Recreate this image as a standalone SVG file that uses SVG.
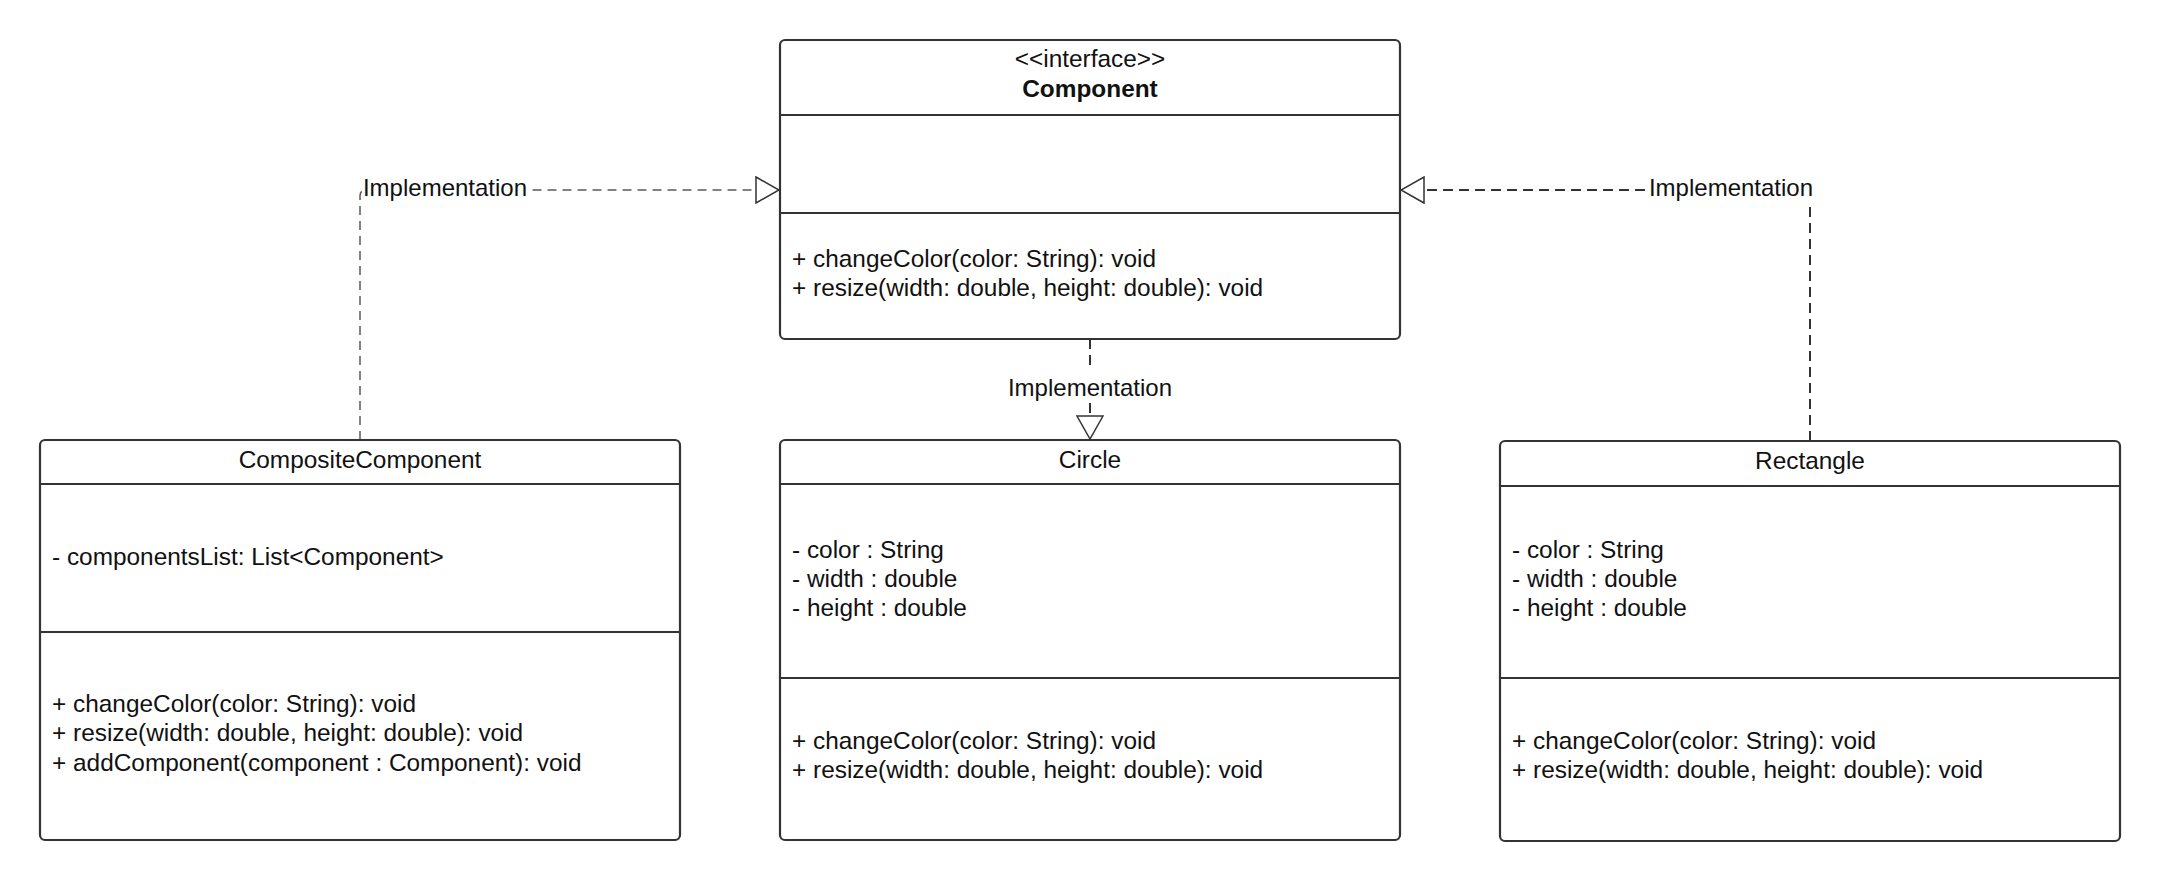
<svg xmlns="http://www.w3.org/2000/svg" width="2160" height="881" viewBox="0 0 2160 881">
  <style>
    .box { fill: #ffffff; stroke: #333333; stroke-width: 2.2; }
    .div { stroke: #333333; stroke-width: 2.2; fill: none; }
    .t { font-family: "Liberation Sans", Arial, sans-serif; font-size: 24.4px; fill: #111111; }
    .l { font-family: "Liberation Sans", Arial, sans-serif; font-size: 24px; fill: #111111; text-anchor: middle; }
    .c { text-anchor: middle; }
    .b { font-weight: bold; }
    .conn { fill: none; stroke: #333333; stroke-width: 2; stroke-dasharray: 10 6; }
    .conn.light { stroke: #5a5a5a; stroke-width: 1.5; stroke-dasharray: 9 6; }
    .lbg { fill: #ffffff; stroke: none; }
  </style>
  <defs>
    <marker id="tri" viewBox="0 0 25 28" refX="24" refY="14" markerWidth="25" markerHeight="28" markerUnits="userSpaceOnUse" orient="auto">
      <path d="M1,1 L24,14 L1,27 Z" fill="#ffffff" stroke="#333333" stroke-width="1.5" stroke-linejoin="miter"/>
    </marker>
  </defs>
  <rect x="0" y="0" width="2160" height="881" fill="#ffffff"/>

  <g id="connectors">
    <g id="conn-composite">
      <path class="conn light" d="M360,440 V196 Q360,190 366,190 H779" marker-end="url(#tri)"/>
      <rect class="lbg" x="362" y="174" width="167" height="30"/>
      <text class="l" x="445" y="196">Implementation</text>
    </g>
    <g id="conn-circle">
      <path class="conn" d="M1090,339 V439" marker-end="url(#tri)"/>
      <rect class="lbg" x="1006" y="369" width="168" height="34"/>
      <text class="l" x="1090" y="396">Implementation</text>
    </g>
    <g id="conn-rectangle">
      <path class="conn" d="M1810,441 V190 H1401" marker-end="url(#tri)"/>
      <rect class="lbg" x="1646" y="172" width="170" height="35"/>
      <text class="l" x="1731" y="196">Implementation</text>
    </g>
  </g>

  <g id="Component">
    <rect class="box" x="780" y="40" width="620" height="299" rx="5"/>
    <line class="div" x1="780" y1="115" x2="1400" y2="115"/>
    <line class="div" x1="780" y1="213" x2="1400" y2="213"/>
    <text class="t c" x="1090" y="67">&lt;&lt;interface&gt;&gt;</text>
    <text class="t c b" x="1090" y="97">Component</text>
    <text class="t" x="792" y="267">+ changeColor(color: String): void</text>
    <text class="t" x="792" y="296">+ resize(width: double, height: double): void</text>
  </g>

  <g id="CompositeComponent">
    <rect class="box" x="40" y="440" width="640" height="400" rx="5"/>
    <line class="div" x1="40" y1="484" x2="680" y2="484"/>
    <line class="div" x1="40" y1="632" x2="680" y2="632"/>
    <text class="t c" x="360" y="468">CompositeComponent</text>
    <text class="t" x="52" y="565">- componentsList: List&lt;Component&gt;</text>
    <text class="t" x="52" y="712">+ changeColor(color: String): void</text>
    <text class="t" x="52" y="741">+ resize(width: double, height: double): void</text>
    <text class="t" x="52" y="771">+ addComponent(component : Component): void</text>
  </g>

  <g id="Circle">
    <rect class="box" x="780" y="440" width="620" height="400" rx="5"/>
    <line class="div" x1="780" y1="484" x2="1400" y2="484"/>
    <line class="div" x1="780" y1="678" x2="1400" y2="678"/>
    <text class="t c" x="1090" y="468">Circle</text>
    <text class="t" x="792" y="558">- color : String</text>
    <text class="t" x="792" y="587">- width : double</text>
    <text class="t" x="792" y="616">- height : double</text>
    <text class="t" x="792" y="749">+ changeColor(color: String): void</text>
    <text class="t" x="792" y="778">+ resize(width: double, height: double): void</text>
  </g>

  <g id="Rectangle">
    <rect class="box" x="1500" y="441" width="620" height="400" rx="5"/>
    <line class="div" x1="1500" y1="486" x2="2120" y2="486"/>
    <line class="div" x1="1500" y1="678" x2="2120" y2="678"/>
    <text class="t c" x="1810" y="469">Rectangle</text>
    <text class="t" x="1512" y="558">- color : String</text>
    <text class="t" x="1512" y="587">- width : double</text>
    <text class="t" x="1512" y="616">- height : double</text>
    <text class="t" x="1512" y="749">+ changeColor(color: String): void</text>
    <text class="t" x="1512" y="778">+ resize(width: double, height: double): void</text>
  </g>
</svg>
